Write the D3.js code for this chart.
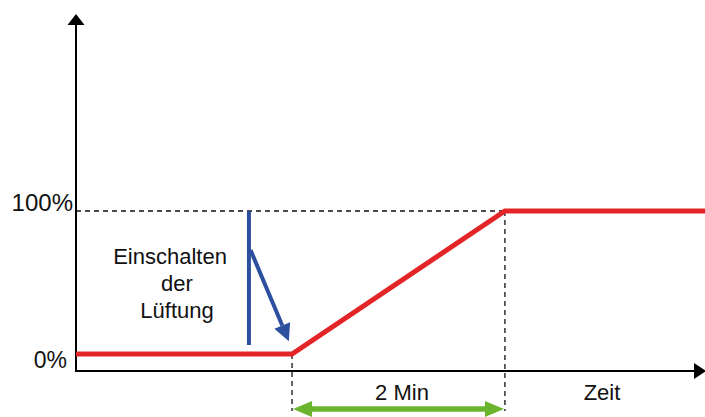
<!DOCTYPE html>
<html>
<head>
<meta charset="utf-8">
<script src="https://cdn.jsdelivr.net/npm/d3@7"></script>
<style>
  html, body { margin: 0; padding: 0; background: #fff; }
  text { font-family: "Liberation Sans", Arial, sans-serif; fill: #111; }
</style>
</head>
<body>
<div id="chart"></div>
<script>
// Lüftung: Einschalten und Hochfahren in 2 Min

// Verlauf (Zeit in Minuten, Leistung in %)
const times = [-0.03, 2, 4, 5.88];
const levels = [0, 0, 100, 100];

const yTicks = [0, 100];
const yTickLabels = ["0%", "100%"];

const rampStart = 2;
const rampEnd = 4;
const durationLabel = "2 Min";
const xAxisLabel = "Zeit";
const noteLines = ["Einschalten", "der", "Lüftung"];

// blauer Pfeil: senkrechte Linie und schräger Pfeil
const noteBarT = 1.595;
const noteBarLevels = [100, 6.3];
const noteArrowT = [1.61, 1.97];
const noteArrowLevels = [72.7, 9];

const width = 705;
const height = 417;

const x = d3.scaleLinear().domain([-0.03, 5.88]).range([76, 705]);
const y = d3.scaleLinear().domain([0, 100]).range([354, 211]);

const yAxisBottom = -11.9;
const yAxisTop = 237.8;
const dimLevel = -38.5;

const svg = d3.select("#chart").append("svg")
  .attr("width", width)
  .attr("height", height);

// Hilfslinien (gestrichelt)
const dash = svg.append("g")
  .attr("stroke", "#111")
  .attr("stroke-width", 1.3)
  .attr("stroke-dasharray", "5,4")
  .attr("fill", "none");

dash.append("line")
  .attr("x1", x(times[0])).attr("x2", x(rampEnd))
  .attr("y1", y(100)).attr("y2", y(100));
dash.append("line")
  .attr("x1", x(rampStart)).attr("x2", x(rampStart))
  .attr("y1", y(0)).attr("y2", y(dimLevel) + 2);
dash.append("line")
  .attr("x1", x(rampEnd)).attr("x2", x(rampEnd))
  .attr("y1", y(100)).attr("y2", y(dimLevel) + 2);

// Achsen mit Pfeilspitzen
const x0 = x(times[0]);
const yBase = y(yAxisBottom);
svg.append("line")
  .attr("x1", x0).attr("x2", x0)
  .attr("y1", yBase + 1).attr("y2", y(yAxisTop) + 8)
  .attr("stroke", "#000").attr("stroke-width", 2);
svg.append("path")
  .attr("d", `M${x0},${y(yAxisTop)} L${x0 - 8.5},${y(yAxisTop) + 11} L${x0 + 8.5},${y(yAxisTop) + 11} Z`)
  .attr("fill", "#000");

svg.append("line")
  .attr("x1", x0).attr("x2", width - 8)
  .attr("y1", yBase).attr("y2", yBase)
  .attr("stroke", "#000").attr("stroke-width", 2);
svg.append("path")
  .attr("d", `M${width + 1},${yBase} L${width - 11},${yBase - 8} L${width - 11},${yBase + 8} Z`)
  .attr("fill", "#000");

// y-Beschriftung
svg.selectAll(".ytick")
  .data(yTicks)
  .join("text")
  .attr("class", "ytick")
  .attr("x", (d, i) => i === 0 ? 67 : 73)
  .attr("y", d => d === 0 ? y(d) + 14 : y(d))
  .attr("text-anchor", "end")
  .attr("font-size", d => d === 0 ? 23 : 24)
  .text((d, i) => yTickLabels[i]);

// roter Verlauf
const line = d3.line()
  .x(d => x(d[0]))
  .y(d => y(d[1]));

svg.append("path")
  .datum(times.map((t, i) => [t, levels[i]]))
  .attr("d", line)
  .attr("fill", "none")
  .attr("stroke", "#e42527")
  .attr("stroke-width", 5)
  .attr("stroke-linejoin", "miter");

// blaue Markierung
const blue = "#2c4f9e";
svg.append("line")
  .attr("x1", x(noteBarT)).attr("x2", x(noteBarT))
  .attr("y1", y(noteBarLevels[0])).attr("y2", y(noteBarLevels[1]))
  .attr("stroke", blue).attr("stroke-width", 4);

const ax1 = x(noteArrowT[0]), ay1 = y(noteArrowLevels[0]);
const ax2 = x(noteArrowT[1]), ay2 = y(noteArrowLevels[1]);
const ang = Math.atan2(ay2 - ay1, ax2 - ax1);
const headLen = 17, headW = 8.5;
const bx = ax2 - headLen * Math.cos(ang), by = ay2 - headLen * Math.sin(ang);
svg.append("line")
  .attr("x1", ax1).attr("y1", ay1)
  .attr("x2", bx).attr("y2", by)
  .attr("stroke", blue).attr("stroke-width", 4);
svg.append("path")
  .attr("d", `M${ax2},${ay2} L${bx + headW * Math.sin(ang)},${by - headW * Math.cos(ang)} L${bx - headW * Math.sin(ang)},${by + headW * Math.cos(ang)} Z`)
  .attr("fill", blue);

// Text zur Markierung
svg.append("text")
  .attr("y", 264)
  .attr("text-anchor", "middle")
  .attr("font-size", 22)
  .selectAll("tspan")
  .data(noteLines)
  .join("tspan")
  .attr("x", (d, i) => i === 0 ? 170 : 177)
  .attr("dy", (d, i) => i === 0 ? 0 : 27)
  .text(d => d);

// grüner Doppelpfeil (2 Min)
const green = "#6ab42e";
const gy = y(dimLevel);
const gx1 = x(rampStart) + 1, gx2 = x(rampEnd) - 1;
const gHead = 19, gW = 8;
svg.append("line")
  .attr("x1", gx1 + gHead - 2).attr("x2", gx2 - gHead + 2)
  .attr("y1", gy).attr("y2", gy)
  .attr("stroke", green).attr("stroke-width", 5.5);
svg.append("path")
  .attr("d", `M${gx1},${gy} L${gx1 + gHead},${gy - gW} L${gx1 + gHead},${gy + gW} Z`)
  .attr("fill", green);
svg.append("path")
  .attr("d", `M${gx2},${gy} L${gx2 - gHead},${gy - gW} L${gx2 - gHead},${gy + gW} Z`)
  .attr("fill", green);

// Achsenbeschriftungen unten
svg.append("text")
  .attr("x", 402)
  .attr("y", 400)
  .attr("text-anchor", "middle")
  .attr("font-size", 22)
  .text(durationLabel);

svg.append("text")
  .attr("x", 602)
  .attr("y", 400)
  .attr("text-anchor", "middle")
  .attr("font-size", 22)
  .text(xAxisLabel);
</script>
</body>
</html>
